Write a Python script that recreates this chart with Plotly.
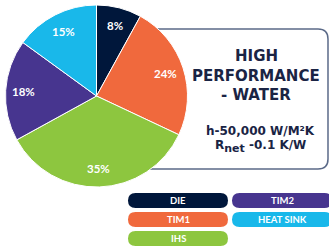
import plotly.graph_objects as go
import math

W, H = 329, 248

labels = ["DIE", "TIM1", "IHS", "TIM2", "HEAT SINK"]
values = [8, 24, 35, 18, 15]
colors = ["#00173b", "#f0693d", "#8dc63f", "#47358f", "#19b8ea"]

title_lines = ["HIGH", "PERFORMANCE", "- WATER"]
sub_lines = ["h-50,000 W/M²K", "R<sub><span style='font-size:11px'>net</span></sub> -0.1 K/W"]

legend_order = ["DIE", "TIM2", "TIM1", "HEAT SINK", "IHS"]

NAVY = "#1a2444"
FONT = "DejaVu Sans"
FONT2 = "Lato"


def px(x, y):
    return x / W, 1 - y / H


def P(x, y):
    a, b = px(x, y)
    return f"{a:.5f},{b:.5f}"


def rounded_path(x0, y0, x1, y1, r):
    return (f"M {P(x0 + r, y0)} L {P(x1 - r, y0)} Q {P(x1, y0)} {P(x1, y0 + r)} "
            f"L {P(x1, y1 - r)} Q {P(x1, y1)} {P(x1 - r, y1)} L {P(x0 + r, y1)} "
            f"Q {P(x0, y1)} {P(x0, y1 - r)} L {P(x0, y0 + r)} Q {P(x0, y0)} {P(x0 + r, y0)} Z")


def box_path(x0, y0, x1, y1, r):
    return (f"M {P(x0, y0)} L {P(x1 - r, y0)} Q {P(x1, y0)} {P(x1, y0 + r)} "
            f"L {P(x1, y1 - r)} Q {P(x1, y1)} {P(x1 - r, y1)} L {P(x0, y1)}")


cx, cy, R = 96.5, 96, 91
fig = go.Figure(go.Pie(
    labels=labels, values=values, sort=False, direction="clockwise", rotation=0,
    marker=dict(colors=colors, line=dict(color="white", width=1)),
    textinfo="none",
    domain=dict(x=[(cx - R) / W, (cx + R) / W], y=[1 - (cy + R) / H, 1 - (cy - R) / H]),
    hoverinfo="skip", showlegend=False,
))

shapes = [dict(type="path", xref="paper", yref="paper", layer="below",
               path=box_path(140, 29, 328, 169, 10),
               line=dict(color="#5b6a88", width=1.5))]
annotations = []

# percentage labels placed along each slice's bisector (from the data)
total = sum(values)
cum = 0
for v in values:
    mid = (cum + v / 2) / total * 2 * math.pi
    cum += v
    lx = cx + 0.8 * R * math.sin(mid)
    ly = cy - 0.8 * R * math.cos(mid)
    ax, ay = px(lx, ly)
    annotations.append(dict(x=ax, y=ay, xref="paper", yref="paper", text=f"{v}%",
                            showarrow=False, xanchor="center", yanchor="middle",
                            font=dict(family=FONT2, size=11.5, color="white", weight="bold")))

cmap = dict(zip(labels, colors))
pill_x = [(128, 228), (232, 332)]
pill_y = [(193, 208), (212, 227), (231, 246)]
for i, name in enumerate(legend_order):
    col = i % 2
    row = i // 2
    x0, x1 = pill_x[col]
    y0, y1 = pill_y[row]
    shapes.append(dict(type="path", xref="paper", yref="paper", layer="above",
                       path=rounded_path(x0, y0, x1, y1, 7.5),
                       fillcolor=cmap[name], line=dict(width=0)))
    ax, ay = px(x0 + 50, (y0 + y1) / 2)
    annotations.append(dict(x=ax, y=ay, xref="paper", yref="paper", text=name,
                            showarrow=False, xanchor="center", yanchor="middle",
                            font=dict(family=FONT2, size=9.5, color="white", weight="bold")))

for i, t in enumerate(title_lines):
    ax, ay = px(256, 56 + i * 19.7)
    annotations.append(dict(x=ax, y=ay, xref="paper", yref="paper", text=t,
                            showarrow=False, xanchor="center", yanchor="middle",
                            font=dict(family=FONT, size=15, color=NAVY, weight="bold")))
for i, t in enumerate(sub_lines):
    ax, ay = px(260, 131 + i * 15)
    annotations.append(dict(x=ax, y=ay, xref="paper", yref="paper", text=t,
                            showarrow=False, xanchor="center", yanchor="middle",
                            font=dict(family=FONT, size=12, color=NAVY, weight="bold")))

fig.update_layout(width=W, height=H, margin=dict(l=0, r=0, t=0, b=0),
                  paper_bgcolor="white", plot_bgcolor="white",
                  shapes=shapes, annotations=annotations)
fig.write_html("out.html", config={"displayModeBar": False},
               post_script="document.body.style.margin='0';")
